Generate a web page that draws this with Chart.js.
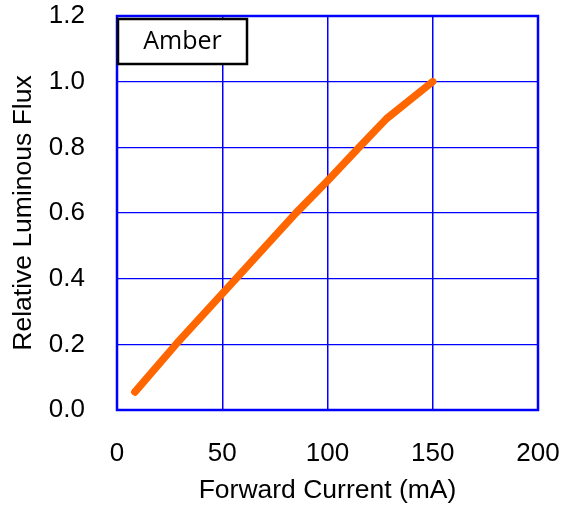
<!DOCTYPE html>
<html>
<head>
<meta charset="utf-8">
<script src="https://cdn.jsdelivr.net/npm/chart.js@4.4.1/dist/chart.umd.min.js"></script>
<style>
html,body{margin:0;padding:0;background:#fff;}
#wrap{width:567px;height:509px;}
</style>
</head>
<body>
<div id="wrap"><canvas id="c" width="567" height="509"></canvas></div>
<script>
const currentMA = [8.5, 28, 56.5, 85, 100, 115, 128, 150];
const relativeFlux = [0.055, 0.2, 0.4, 0.6, 0.698, 0.8, 0.887, 1.0];
const xTicks = [0, 50, 100, 150, 200];
const yTicks = [0.0, 0.2, 0.4, 0.6, 0.8, 1.0, 1.2];
const seriesLabel = 'Amber';
const xTitle = 'Forward Current (mA)';
const yTitle = 'Relative Luminous Flux';

const points = currentMA.map((x, i) => ({x: x, y: relativeFlux[i]}));
const BLUE = '#0000FF';
const tickFont = {family: '"Liberation Sans", Arial, sans-serif', size: 26};
const titleFont = {family: '"Liberation Sans", Arial, sans-serif', size: 26.5};

function noOverhang(s) {
  s.paddingLeft = 0; s.paddingRight = 0; s.paddingTop = 0; s.paddingBottom = 0;
}

const framePlugin = {
  id: 'frame',
  beforeDatasetsDraw(chart) {
    const {ctx, chartArea: a} = chart;
    ctx.save();
    ctx.strokeStyle = BLUE;
    ctx.lineWidth = 2.5;
    ctx.strokeRect(a.left, a.top, a.right - a.left, a.bottom - a.top);
    ctx.restore();
  },
  afterDatasetsDraw(chart) {
    const {ctx, chartArea: a} = chart;
    ctx.save();
    const bx = a.left + 1, by = a.top + 3, bw = 129, bh = 45;
    ctx.fillStyle = '#fff';
    ctx.fillRect(bx, by, bw, bh);
    ctx.strokeStyle = '#000';
    ctx.lineWidth = 2.5;
    ctx.strokeRect(bx, by, bw, bh);
    ctx.fillStyle = '#000';
    ctx.font = '25px "Open Sans", sans-serif';
    ctx.textAlign = 'center';
    ctx.textBaseline = 'middle';
    ctx.fillText(seriesLabel, bx + bw / 2, by + bh / 2);
    ctx.restore();
  }
};

new Chart(document.getElementById('c'), {
  type: 'line',
  data: {
    datasets: [{
      label: seriesLabel,
      data: points,
      borderColor: '#FF6600',
      borderWidth: 7.5,
      borderCapStyle: 'round',
      borderJoinStyle: 'round',
      pointRadius: 0,
      tension: 0,
      fill: false
    }]
  },
  options: {
    responsive: false,
    animation: false,
    devicePixelRatio: 1,
    layout: {padding: {top: 16, right: 29, left: 0, bottom: 0}},
    plugins: {legend: {display: false}, tooltip: {enabled: false}},
    scales: {
      x: {
        type: 'linear', min: 0, max: 200,
        afterBuildTicks(s) { s.ticks = xTicks.map(v => ({value: v})); },
        afterFit(s) { s.height = 99; noOverhang(s); },
        grid: {color: BLUE, lineWidth: 1.5, drawTicks: false},
        border: {display: false},
        ticks: {color: '#000', font: tickFont, padding: 28, maxRotation: 0, autoSkip: false},
        title: {display: true, text: xTitle, color: '#000', font: titleFont, padding: {top: 0, bottom: 2}}
      },
      y: {
        type: 'linear', min: 0, max: 1.2,
        afterBuildTicks(s) { s.ticks = yTicks.map(v => ({value: v})); },
        afterFit(s) { s.width = 117; noOverhang(s); },
        grid: {color: BLUE, lineWidth: 1.2, drawTicks: false},
        border: {display: false},
        ticks: {color: '#000', font: tickFont, padding: 32, autoSkip: false,
          callback: v => Number(v).toFixed(1)},
        title: {display: true, text: yTitle, color: '#000', font: titleFont, padding: {top: 8, bottom: 0}}
      }
    }
  },
  plugins: [framePlugin]
});
</script>
</body>
</html>
